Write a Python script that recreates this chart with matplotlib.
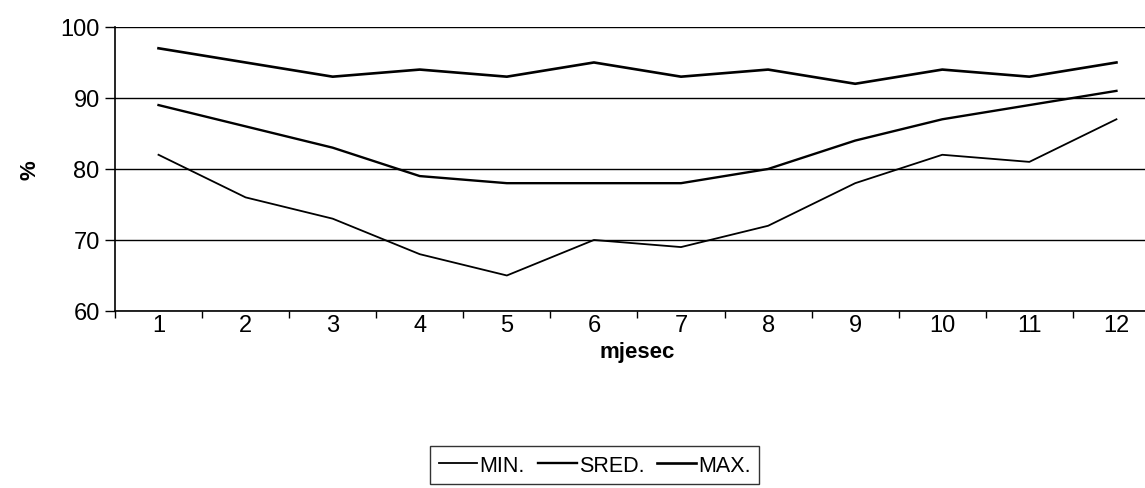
import numpy as np
import matplotlib
matplotlib.use("Agg")
import matplotlib.pyplot as plt

plt.rcParams['font.family'] = ['Liberation Sans', 'DejaVu Sans']

months = np.arange(1, 13)
min_vals = [82, 76, 73, 68, 65, 70, 69, 72, 78, 82, 81, 87]
sred_vals = [89, 86, 83, 79, 78, 78, 78, 80, 84, 87, 89, 91]
max_vals = [97, 95, 93, 94, 93, 95, 93, 94, 92, 94, 93, 95]
labels = ['MIN.', 'SRED.', 'MAX.']

fig = plt.figure(figsize=(11.45, 4.89), dpi=100)
# plot area runs off the right edge, like the scanned original
ax = fig.add_axes([0.1004, 0.362, 0.9127, 0.5808])

ax.plot(months, min_vals, color='black', lw=1.3, label=labels[0])
ax.plot(months, sred_vals, color='black', lw=1.7, label=labels[1])
ax.plot(months, max_vals, color='black', lw=1.9, label=labels[2])

ax.set_xlim(0.5, 12.5)
ax.set_ylim(60, 100)
ax.set_yticks([60, 70, 80, 90, 100])
ax.set_xticks(months)
ax.set_xticks(np.arange(0.5, 13, 1), minor=True)
ax.tick_params(axis='x', which='major', length=0, pad=2, labelsize=17)
ax.tick_params(axis='x', which='minor', length=5, width=1, direction='out')
ax.tick_params(axis='y', length=7, width=1, pad=4, labelsize=17)

ax.grid(axis='y', color='black', lw=1)
ax.set_axisbelow(True)
for side in ['top', 'right']:
    ax.spines[side].set_visible(False)
for side in ['left', 'bottom']:
    ax.spines[side].set_linewidth(1.2)

ax.set_xlabel('mjesec', fontsize=16, fontweight='bold', labelpad=4)
ax.set_ylabel('%', fontsize=16, fontweight='bold', labelpad=14)

leg = ax.legend(loc='upper left', bbox_to_anchor=(430 / 1145, 1 - 447 / 489),
                bbox_transform=fig.transFigure, ncol=3, fontsize=15.5,
                frameon=True, fancybox=False, handlelength=1.8,
                handletextpad=0.1, columnspacing=0.6, borderpad=0.4,
                borderaxespad=0)
leg.get_frame().set_edgecolor('black')
leg.get_frame().set_linewidth(1)

plt.savefig('out.png', dpi=100)
